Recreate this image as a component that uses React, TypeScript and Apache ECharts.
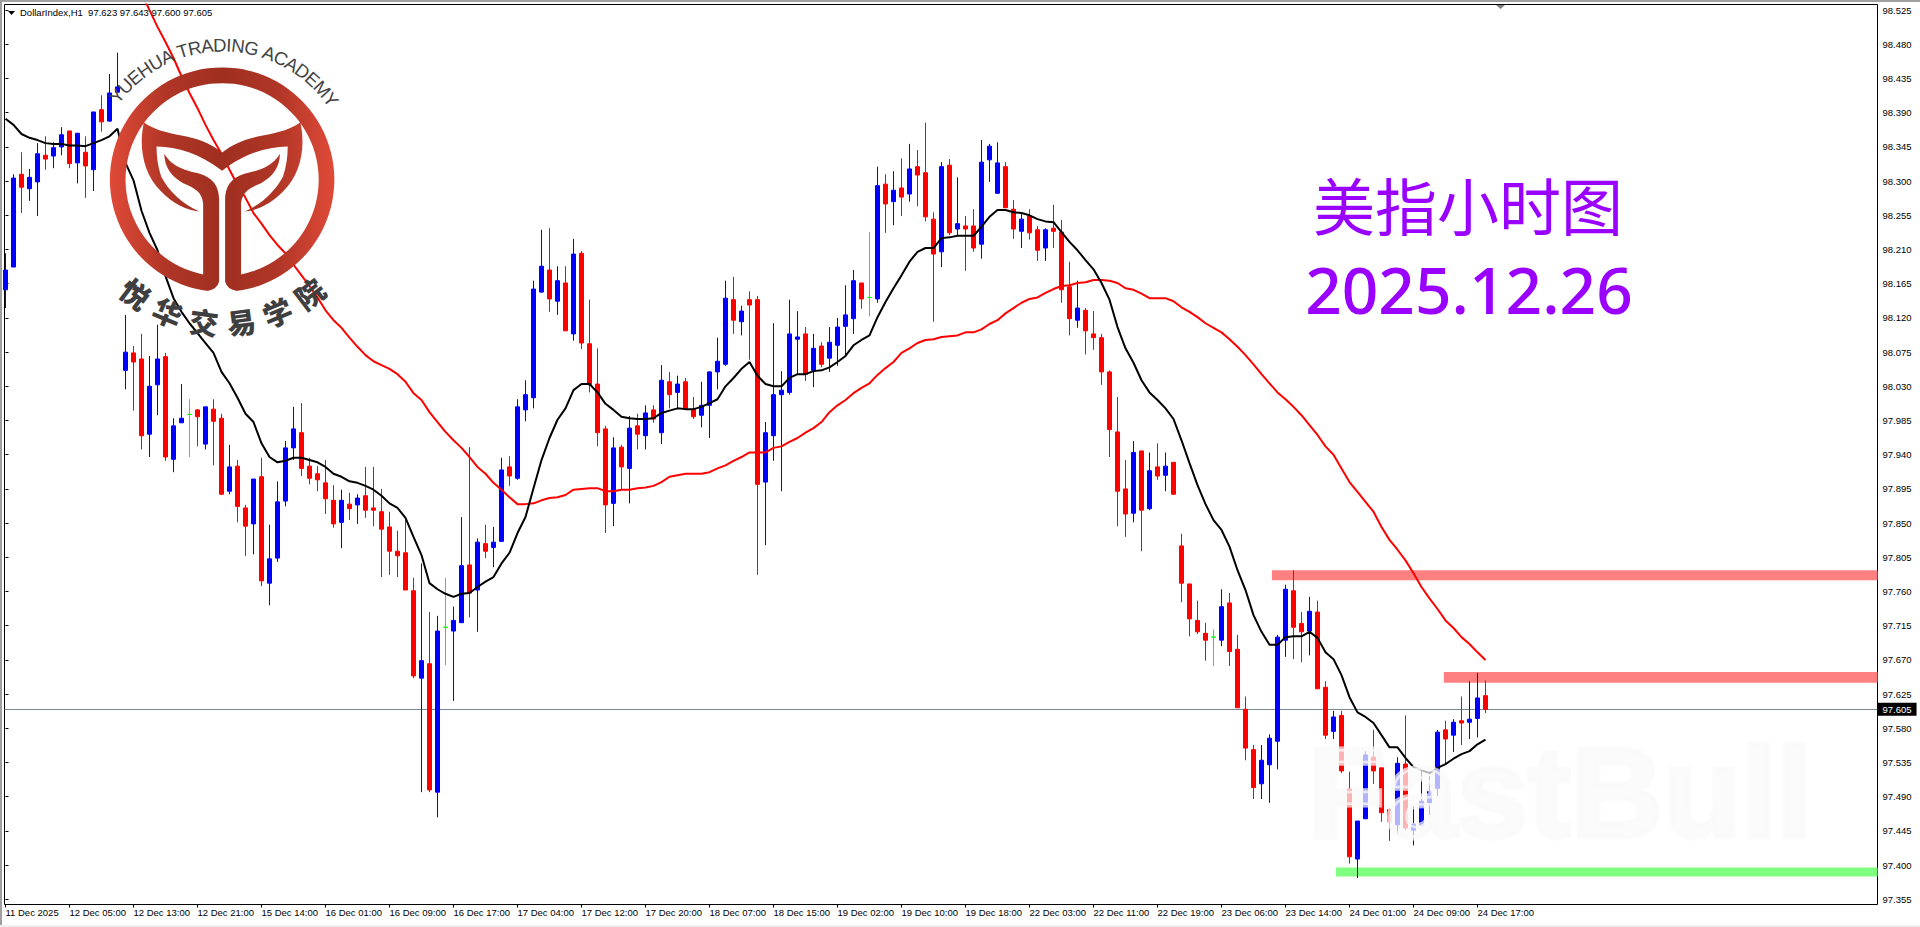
import React, { useEffect, useRef } from 'react';
import * as echarts from 'echarts';

const opens = [
  98.157, 98.187, 98.309, 98.290, 98.299, 98.334, 98.333, 98.345, 98.366, 98.324,
  98.338, 98.315, 98.394, 98.379, 98.417, 98.051, 98.074, 98.066, 97.967, 98.032,
  98.069, 97.934, 97.982, 97.993, 97.999, 97.954, 98.000, 97.988, 97.892, 97.925,
  97.870, 97.849, 97.911, 97.771, 97.804, 97.879, 97.949, 97.969, 97.925, 97.915,
  97.903, 97.880, 97.851, 97.875, 97.874, 97.886, 97.870, 97.865, 97.845, 97.813,
  97.811, 97.761, 97.646, 97.665, 97.496, 97.713, 97.708, 97.719, 97.795, 97.762,
  97.823, 97.818, 97.826, 97.924, 97.909, 97.999, 98.015, 98.154, 98.183, 98.142,
  98.166, 98.099, 98.205, 98.086, 98.033, 97.974, 97.876, 97.950, 97.922, 97.978,
  97.965, 97.999, 97.969, 98.036, 98.022, 98.036, 98.000, 97.992, 98.005, 98.049,
  98.059, 98.144, 98.115, 98.144, 98.144, 97.904, 97.965, 98.019, 98.022, 98.092,
  98.099, 98.051, 98.083, 98.067, 98.084, 98.109, 98.119, 98.166, 98.147, 98.145,
  98.296, 98.273, 98.291, 98.283, 98.319, 98.311, 98.250, 98.207, 98.321, 98.237,
  98.241, 98.241, 98.217, 98.328, 98.284, 98.319, 98.263, 98.234, 98.254, 98.236,
  98.212, 98.238, 98.233, 98.161, 98.117, 98.130, 98.099, 98.094, 98.049, 97.970,
  97.895, 97.863, 97.945, 97.869, 97.924, 97.913, 97.930, 97.820, 97.770, 97.722,
  97.705, 97.700, 97.696, 97.745, 97.684, 97.605, 97.552, 97.507, 97.532, 97.563,
  97.696, 97.761, 97.718, 97.708, 97.733, 97.634, 97.576, 97.597, 97.500, 97.408,
  97.461, 97.542, 97.528, 97.473, 97.453, 97.533, 97.446, 97.452, 97.482, 97.501,
  97.578, 97.571, 97.590, 97.588, 97.593, 97.623,
];

const closes = [
  98.183, 98.304, 98.292, 98.305, 98.336, 98.329, 98.344, 98.361, 98.323, 98.363,
  98.320, 98.391, 98.378, 98.416, 98.424, 98.075, 98.062, 97.965, 98.030, 98.066,
  97.937, 97.978, 97.988, 97.993, 97.990, 98.003, 97.984, 97.888, 97.924, 97.872,
  97.846, 97.908, 97.774, 97.803, 97.878, 97.949, 97.974, 97.922, 97.909, 97.907,
  97.882, 97.849, 97.880, 97.869, 97.883, 97.867, 97.867, 97.842, 97.813, 97.807,
  97.762, 97.649, 97.669, 97.499, 97.708, 97.713, 97.722, 97.794, 97.758, 97.825,
  97.813, 97.825, 97.920, 97.912, 98.003, 98.019, 98.158, 98.188, 98.145, 98.169,
  98.103, 98.204, 98.087, 98.032, 97.969, 97.874, 97.949, 97.924, 97.975, 97.967,
  97.995, 97.987, 98.038, 98.019, 98.033, 98.001, 97.990, 98.005, 98.049, 98.063,
  98.146, 98.117, 98.129, 98.137, 97.901, 97.969, 98.019, 98.025, 98.099, 98.095,
  98.046, 98.080, 98.059, 98.088, 98.108, 98.124, 98.169, 98.145, 98.147, 98.294,
  98.270, 98.288, 98.279, 98.316, 98.308, 98.253, 98.204, 98.319, 98.232, 98.244,
  98.237, 98.212, 98.325, 98.346, 98.324, 98.265, 98.237, 98.250, 98.232, 98.209,
  98.236, 98.234, 98.157, 98.119, 98.133, 98.103, 98.094, 98.049, 97.973, 97.892,
  97.862, 97.943, 97.867, 97.919, 97.912, 97.925, 97.888, 97.771, 97.724, 97.707,
  97.696, 97.700, 97.740, 97.681, 97.607, 97.554, 97.502, 97.538, 97.567, 97.700,
  97.763, 97.713, 97.707, 97.734, 97.632, 97.571, 97.595, 97.524, 97.411, 97.458,
  97.545, 97.524, 97.469, 97.457, 97.534, 97.449, 97.454, 97.484, 97.497, 97.575,
  97.566, 97.588, 97.587, 97.592, 97.620, 97.605,
];

const lows = [
  98.133, 98.187, 98.258, 98.274, 98.254, 98.315, 98.317, 98.334, 98.317, 98.297,
  98.278, 98.287, 98.365, 98.378, 98.417, 98.026, 97.998, 97.947, 97.937, 97.992,
  97.932, 97.917, 97.982, 97.937, 97.951, 97.947, 97.926, 97.887, 97.888, 97.851,
  97.807, 97.809, 97.767, 97.742, 97.799, 97.872, 97.933, 97.912, 97.901, 97.892,
  97.862, 97.844, 97.817, 97.854, 97.849, 97.857, 97.846, 97.779, 97.782, 97.779,
  97.762, 97.646, 97.496, 97.496, 97.463, 97.663, 97.616, 97.719, 97.726, 97.707,
  97.804, 97.792, 97.826, 97.899, 97.907, 97.984, 98.001, 98.153, 98.128, 98.124,
  98.103, 98.090, 98.079, 98.022, 97.951, 97.837, 97.846, 97.894, 97.876, 97.947,
  97.947, 97.982, 97.954, 98.001, 98.001, 98.001, 97.987, 97.976, 97.962, 98.026,
  98.057, 98.099, 98.097, 98.065, 97.782, 97.821, 97.932, 97.892, 98.019, 98.045,
  98.037, 98.029, 98.055, 98.049, 98.057, 98.071, 98.099, 98.132, 98.122, 98.140,
  98.232, 98.242, 98.254, 98.273, 98.267, 98.247, 98.115, 98.187, 98.229, 98.228,
  98.182, 98.207, 98.198, 98.299, 98.283, 98.265, 98.224, 98.212, 98.223, 98.195,
  98.195, 98.212, 98.140, 98.097, 98.107, 98.072, 98.078, 98.032, 97.937, 97.846,
  97.832, 97.851, 97.813, 97.867, 97.907, 97.892, 97.887, 97.746, 97.701, 97.704,
  97.669, 97.662, 97.688, 97.662, 97.607, 97.538, 97.487, 97.487, 97.482, 97.526,
  97.674, 97.671, 97.667, 97.676, 97.632, 97.566, 97.566, 97.521, 97.402, 97.383,
  97.461, 97.507, 97.457, 97.432, 97.441, 97.446, 97.426, 97.452, 97.466, 97.491,
  97.534, 97.549, 97.558, 97.566, 97.568, 97.600,
];

const highs = [
  98.205, 98.309, 98.338, 98.316, 98.350, 98.359, 98.351, 98.371, 98.366, 98.363,
  98.359, 98.391, 98.413, 98.441, 98.469, 98.124, 98.083, 98.099, 98.070, 98.111,
  98.074, 97.988, 98.033, 98.013, 98.000, 98.003, 98.013, 97.994, 97.953, 97.933,
  97.874, 97.908, 97.936, 97.848, 97.905, 97.958, 98.003, 98.008, 97.936, 97.925,
  97.933, 97.900, 97.894, 97.890, 97.888, 97.924, 97.924, 97.895, 97.865, 97.840,
  97.854, 97.778, 97.797, 97.733, 97.728, 97.778, 97.740, 97.858, 97.950, 97.830,
  97.848, 97.845, 97.936, 97.938, 98.013, 98.038, 98.169, 98.236, 98.238, 98.188,
  98.188, 98.224, 98.208, 98.144, 98.080, 97.978, 97.963, 97.953, 97.991, 97.994,
  98.005, 98.005, 98.058, 98.049, 98.044, 98.041, 98.016, 98.036, 98.050, 98.094,
  98.169, 98.174, 98.136, 98.155, 98.149, 97.983, 98.113, 98.050, 98.144, 98.129,
  98.108, 98.099, 98.088, 98.108, 98.120, 98.163, 98.183, 98.166, 98.233, 98.319,
  98.309, 98.313, 98.330, 98.349, 98.341, 98.377, 98.259, 98.325, 98.329, 98.305,
  98.254, 98.263, 98.354, 98.349, 98.351, 98.325, 98.275, 98.257, 98.263, 98.241,
  98.238, 98.269, 98.249, 98.194, 98.169, 98.133, 98.129, 98.099, 98.051, 98.016,
  97.933, 97.958, 97.945, 97.943, 97.955, 97.943, 97.930, 97.836, 97.770, 97.748,
  97.719, 97.710, 97.763, 97.758, 97.703, 97.622, 97.558, 97.558, 97.572, 97.703,
  97.769, 97.788, 97.733, 97.753, 97.748, 97.642, 97.603, 97.603, 97.523, 97.458,
  97.550, 97.578, 97.528, 97.475, 97.542, 97.597, 97.478, 97.524, 97.517, 97.578,
  97.590, 97.592, 97.622, 97.642, 97.653, 97.643,
];

// fast moving average, black
const maFast = [
  98.382, 98.374, 98.362, 98.357, 98.354, 98.350, 98.349, 98.349, 98.347, 98.347,
  98.346, 98.350, 98.354, 98.359, 98.369, 98.324, 98.301, 98.261, 98.232, 98.209,
  98.175, 98.146, 98.128, 98.113, 98.100, 98.087, 98.074, 98.049, 98.034, 98.015,
  97.994, 97.983, 97.955, 97.937, 97.930, 97.932, 97.936, 97.936, 97.933, 97.930,
  97.924, 97.915, 97.911, 97.905, 97.903, 97.899, 97.894, 97.886, 97.876, 97.870,
  97.857, 97.832, 97.808, 97.771, 97.763, 97.757, 97.753, 97.757, 97.758, 97.766,
  97.773, 97.779, 97.797, 97.811, 97.837, 97.858, 97.896, 97.933, 97.962, 97.986,
  98.001, 98.025, 98.033, 98.033, 98.022, 98.007, 97.999, 97.990, 97.988, 97.987,
  97.987, 97.988, 97.995, 97.998, 98.001, 98.000, 98.000, 98.003, 98.008, 98.013,
  98.030, 98.041, 98.053, 98.062, 98.044, 98.033, 98.030, 98.030, 98.041, 98.046,
  98.046, 98.050, 98.051, 98.055, 98.062, 98.070, 98.084, 98.091, 98.097, 98.121,
  98.141, 98.159, 98.176, 98.194, 98.207, 98.212, 98.212, 98.225, 98.226, 98.228,
  98.228, 98.228, 98.240, 98.253, 98.262, 98.262, 98.259, 98.258, 98.255, 98.250,
  98.247, 98.246, 98.233, 98.220, 98.209, 98.196, 98.184, 98.166, 98.144, 98.108,
  98.080, 98.061, 98.038, 98.022, 98.012, 98.001, 97.987, 97.959, 97.929, 97.900,
  97.875, 97.854, 97.841, 97.819, 97.788, 97.762, 97.729, 97.707, 97.690, 97.690,
  97.700, 97.701, 97.701, 97.707, 97.699, 97.680, 97.671, 97.650, 97.621, 97.601,
  97.595, 97.587, 97.571, 97.555, 97.555, 97.541, 97.529, 97.525, 97.521, 97.528,
  97.533, 97.540, 97.546, 97.550, 97.559, 97.565,
];

// slow moving average, red: first bar seen is maSlowStart, before that it is above the chart
const maSlowStart = 17;
const maSlow = [
  98.548, 98.525, 98.503, 98.483, 98.462, 98.438, 98.416, 98.396, 98.374, 98.354,
  98.336, 98.315, 98.295, 98.278, 98.258, 98.244, 98.229, 98.216, 98.205, 98.190,
  98.176, 98.162, 98.147, 98.130, 98.117, 98.107, 98.094, 98.082, 98.071, 98.063,
  98.058, 98.053, 98.046, 98.036, 98.021, 98.012, 97.996, 97.983, 97.970, 97.959,
  97.949, 97.937, 97.924, 97.915, 97.903, 97.894, 97.884, 97.875, 97.875, 97.876,
  97.880, 97.883, 97.884, 97.887, 97.894, 97.895, 97.896, 97.896, 97.892, 97.892,
  97.894, 97.894, 97.896, 97.897, 97.899, 97.904, 97.911, 97.913, 97.915, 97.915,
  97.915, 97.917, 97.922, 97.926, 97.932, 97.937, 97.943, 97.943, 97.943, 97.949,
  97.951, 97.957, 97.962, 97.969, 97.975, 97.983, 97.996, 98.005, 98.012, 98.021,
  98.028, 98.034, 98.045, 98.054, 98.062, 98.074, 98.080, 98.087, 98.091, 98.092,
  98.095, 98.096, 98.097, 98.101, 98.101, 98.105, 98.112, 98.117, 98.126, 98.133,
  98.140, 98.145, 98.147, 98.153, 98.158, 98.162, 98.163, 98.166, 98.167, 98.170,
  98.170, 98.169, 98.166, 98.159, 98.157, 98.152, 98.146, 98.146, 98.146, 98.142,
  98.134, 98.128, 98.121, 98.113, 98.107, 98.101, 98.092, 98.082, 98.071, 98.059,
  98.046, 98.034, 98.022, 98.013, 98.003, 97.992, 97.979, 97.966, 97.951, 97.940,
  97.922, 97.904, 97.891, 97.878, 97.865, 97.845, 97.828, 97.815, 97.801, 97.784,
  97.766, 97.751, 97.737, 97.722, 97.712, 97.700, 97.691, 97.680, 97.670,
];

const timeLabels = [
  '11 Dec 2025', '12 Dec 05:00', '12 Dec 13:00', '12 Dec 21:00', '15 Dec 14:00', '16 Dec 01:00',
  '16 Dec 09:00', '16 Dec 17:00', '17 Dec 04:00', '17 Dec 12:00', '17 Dec 20:00', '18 Dec 07:00',
  '18 Dec 15:00', '19 Dec 02:00', '19 Dec 10:00', '19 Dec 18:00', '22 Dec 03:00', '22 Dec 11:00',
  '22 Dec 19:00', '23 Dec 06:00', '23 Dec 14:00', '24 Dec 01:00', '24 Dec 09:00', '24 Dec 17:00',
];
const barsPerLabel = 8;
const priceTicks = [
  97.355, 97.4, 97.445, 97.49, 97.535, 97.58, 97.625, 97.67, 97.715, 97.76, 97.805, 97.85, 97.895, 97.94,
  97.985, 98.03, 98.075, 98.12, 98.165, 98.21, 98.255, 98.3, 98.345, 98.39, 98.435, 98.48, 98.525,
];
const lastPrice = 97.605;

// support and resistance bands: first bar, bottom price, top price, colour
const bandFrom = [158.3, 179.8, 166.3];
const bandBottom = [97.775, 97.64, 97.385];
const bandTop = [97.788, 97.654, 97.397];
const bandColor = ['#ff8080', '#ff8080', '#80ff80'];

const AXIS_FONT = '"Liberation Sans", Arial, sans-serif';

// logo outline, drawn at 3x around centre (667, 540)
const logoPath = [
  // ring, open at the bottom
  'M626 874 A337 337 0 1 1 708 874 L724 824 A290 290 0 1 0 610 824 Z',
  // left stem and leaf
  'M493 462 C520 505 560 512 600 522 C640 535 658 560 658 600 L658 845 Q652 868 625 873 L610 824 L610 610 C606 575 585 565 550 550 C515 530 495 505 493 462 Z',
  // right stem and leaf
  'M841 462 C839 505 819 530 784 550 C749 565 728 575 724 610 L724 824 L709 873 Q682 868 676 845 L676 600 C676 560 694 535 734 522 C774 512 814 505 841 462 Z',
  // wings
  'M432 368 C470 395 520 402 560 410 C610 420 645 440 667 458 C689 440 724 420 774 410 C814 402 864 395 902 368 C918 440 905 520 850 575 C815 610 775 632 735 635 C785 615 830 570 850 530 C860 500 864 470 864 440 C800 442 735 460 667 513 C599 460 534 442 470 440 C470 470 474 500 484 530 C504 570 549 615 599 635 C559 632 519 610 484 575 C429 520 416 440 432 368 Z',
].join(' ');
echarts.graphic.registerShape('yuehuaLogo', echarts.graphic.extendPath(logoPath, {}));

const logoCx = 222.5;
const logoCy = 180;
const logoTopText = 'YUEHUA TRADING ACADEMY';
const logoBottomText = '悦华交易学院';

function buildLogoLetters() {
  const font = '18.5px "Liberation Sans"';
  const ctx = document.createElement('canvas').getContext('2d');
  ctx.font = font;
  const widths = logoTopText.split('').map((c) => ctx.measureText(c).width);
  const total = widths.reduce((a, b) => a + b, 0);
  const start = (-54 * Math.PI) / 180;
  const span = (110 * Math.PI) / 180;
  const letters: any[] = [];
  let run = 0;
  logoTopText.split('').forEach((c, i) => {
    const t = start + (span * (run + widths[i] / 2)) / total;
    run += widths[i];
    letters.push({
      type: 'text',
      x: logoCx + 135 * Math.sin(t),
      y: logoCy - 135 * Math.cos(t),
      rotation: -t,
      z: 101,
      silent: true,
      style: { text: c, font, fill: '#444444', align: 'center', verticalAlign: 'middle' },
    });
  });
  logoBottomText.split('').forEach((c, i) => {
    const t = ((-37.5 + i * 15) * Math.PI) / 180;
    letters.push({
      type: 'text',
      x: logoCx + 142 * Math.sin(t),
      y: logoCy + 142 * Math.cos(t),
      rotation: t,
      z: 101,
      silent: true,
      style: {
        text: c,
        font: '900 29px "Noto Sans CJK SC"',
        fill: '#3f3f3f',
        align: 'center',
        verticalAlign: 'middle',
      },
    });
  });
  return letters;
}

const App: React.FC = () => {
  const chartRef = useRef<HTMLDivElement>(null);

  useEffect(() => {
    if (!chartRef.current) return;
    const chart = echarts.init(chartRef.current, null, { renderer: 'svg' });

    const candles = opens.map((o, i) => {
      const value = [i, o, closes[i], lows[i], highs[i]];
      if (o !== closes[i]) return { value };
      return {
        value,
        itemStyle: {
          color: '#00ff00',
          color0: '#00ff00',
          borderColor: '#00ff00',
          borderColor0: '#00ff00',
          borderColorDoji: '#00ff00',
        },
      };
    });

    const option = {
      animation: false,
      backgroundColor: '#ffffff',
      grid: {
        show: true,
        left: 4.5,
        top: 4.5,
        width: 1873,
        height: 900,
        borderColor: '#000000',
        borderWidth: 1,
        backgroundColor: 'transparent',
      },
      xAxis: {
        type: 'value',
        min: -0.125,
        max: 234,
        splitLine: { show: false },
        axisLine: { show: false },
        axisTick: {
          show: true,
          length: 3,
          lineStyle: { color: '#000000' },
          customValues: timeLabels.map((_, i) => i * barsPerLabel),
        },
        axisLabel: {
          show: true,
          color: '#000000',
          fontFamily: AXIS_FONT,
          fontSize: 9.5,
          align: 'left',
          margin: 3,
          customValues: timeLabels.map((_, i) => i * barsPerLabel),
          formatter: (v: number) => timeLabels[Math.round(v / barsPerLabel)],
        },
      },
      yAxis: {
        type: 'value',
        position: 'right',
        min: 97.3482,
        max: 98.5324,
        splitLine: { show: false },
        axisLine: { show: false },
        axisTick: {
          show: true,
          length: 3,
          lineStyle: { color: '#000000' },
          customValues: priceTicks,
        },
        axisLabel: {
          show: true,
          color: '#000000',
          fontFamily: AXIS_FONT,
          fontSize: 9.5,
          margin: 5,
          customValues: priceTicks,
          formatter: (v: number) => v.toFixed(3),
        },
      },
      series: [
        {
          type: 'candlestick',
          barWidth: 4,
          encode: { x: 0, y: [1, 2, 3, 4] },
          itemStyle: {
            color: '#0000ff',
            color0: '#ff0000',
            borderColor: '#0000ff',
            borderColor0: '#ff0000',
            borderWidth: 1,
          },
          data: candles,
          z: 2,
        },
        {
          type: 'line',
          data: maSlow.map((v, i) => [i + maSlowStart, v]),
          showSymbol: false,
          lineStyle: { color: '#ff0000', width: 2 },
          z: 3,
          markArea: {
            silent: true,
            z: 1,
            data: bandFrom.map((from, i) => [
              { coord: [from, bandTop[i]], itemStyle: { color: bandColor[i], opacity: 1 } },
              { coord: [234, bandBottom[i]] },
            ]),
          },
          markLine: {
            silent: true,
            symbol: 'none',
            precision: 3,
            z: 1,
            lineStyle: { color: '#778899', width: 1, type: 'solid' },
            label: {
              show: true,
              position: 'end',
              distance: 0,
              formatter: lastPrice.toFixed(3),
              color: '#ffffff',
              backgroundColor: '#000000',
              fontFamily: AXIS_FONT,
              fontSize: 9.5,
              padding: [2, 5, 1, 5],
            },
            data: [{ yAxis: lastPrice }],
          },
        },
        {
          type: 'line',
          data: maFast.map((v, i) => [i, v]),
          showSymbol: false,
          lineStyle: { color: '#000000', width: 2 },
          z: 4,
        },
      ],
      graphic: {
        elements: [
          { type: 'rect', silent: true, z: 50, shape: { x: 0, y: 0, width: 1920, height: 2 }, style: { fill: '#a0a0a0' } },
          { type: 'rect', silent: true, z: 50, shape: { x: 0, y: 0, width: 2, height: 927 }, style: { fill: '#a0a0a0' } },
          { type: 'rect', silent: true, z: 50, shape: { x: 0, y: 925, width: 1920, height: 2 }, style: { fill: '#f0f0f0' } },
          { type: 'polygon', silent: true, z: 50, shape: { points: [[8, 11], [15, 11], [11.5, 15]] }, style: { fill: '#000000' } },
          { type: 'polygon', silent: true, z: 50, shape: { points: [[1496, 5], [1505, 5], [1500.5, 9]] }, style: { fill: '#808080' } },
          {
            type: 'text',
            silent: true,
            z: 50,
            x: 20,
            y: 12.5,
            style: {
              text: 'DollarIndex,H1  97.623 97.643 97.600 97.605',
              font: `9.5px ${AXIS_FONT}`,
              fill: '#000000',
              verticalAlign: 'middle',
            },
          },
          {
            type: 'yuehuaLogo',
            silent: true,
            z: 100,
            x: 0,
            y: 0,
            scaleX: 1 / 3,
            scaleY: 1 / 3,
            style: {
              fill: {
                type: 'linear',
                x: 0,
                y: 0,
                x2: 1,
                y2: 0,
                colorStops: [
                  { offset: 0, color: '#e04a38' },
                  { offset: 0.25, color: '#b03626' },
                  { offset: 0.5, color: '#9f2f20' },
                  { offset: 0.75, color: '#b03626' },
                  { offset: 1, color: '#e04a38' },
                ],
              },
            },
          },
          ...buildLogoLetters(),
          {
            type: 'text',
            silent: true,
            z: 100,
            x: 1468,
            y: 204,
            style: {
              text: '美指小时图',
              font: '62px "Noto Sans CJK SC"',
              fill: '#9900ff',
              align: 'center',
              verticalAlign: 'middle',
            },
          },
          {
            type: 'text',
            silent: true,
            z: 100,
            x: 1469,
            y: 289,
            style: {
              text: '2025.12.26',
              font: '500 64px "Noto Sans"',
              fill: '#9900ff',
              align: 'center',
              verticalAlign: 'middle',
            },
          },
          {
            type: 'text',
            silent: true,
            z: 100,
            x: 1560,
            y: 792,
            style: {
              text: 'FastBull',
              font: '900 128px "Liberation Sans"',
              fill: 'rgba(250,250,250,0.72)',
              stroke: 'rgba(250,250,250,0.72)',
              lineWidth: 5,
              align: 'center',
              verticalAlign: 'middle',
              shadowBlur: 14,
              shadowColor: 'rgba(0,0,0,0.2)',
              shadowOffsetY: 6,
            },
          },
        ],
      },
    };

    chart.setOption(option);

    return () => {
      chart.dispose();
    };
  }, []);

  return (
    <div
      ref={chartRef}
      style={{ position: 'fixed', left: 0, top: 0, width: 1920, height: 927 }}
    />
  );
};

export default App;
